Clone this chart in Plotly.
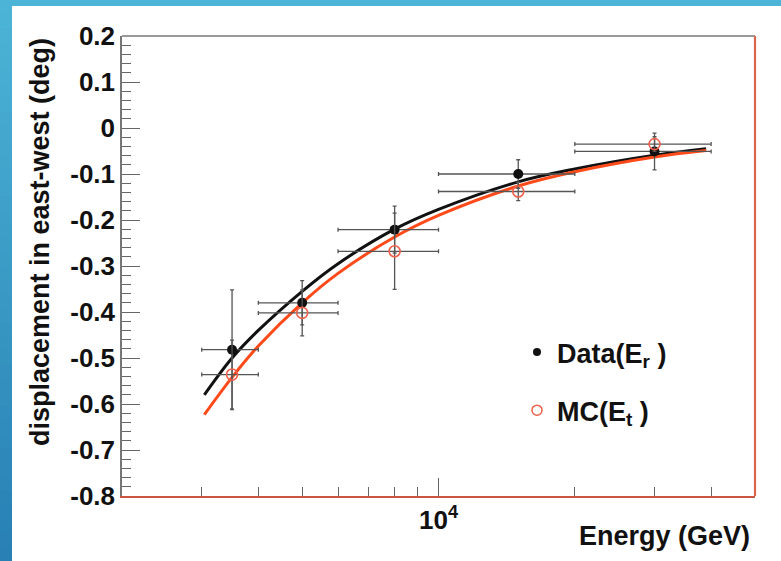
import math
import plotly.graph_objects as go

# ---- measurements -------------------------------------------------------
energy = [3500, 5000, 8000, 15000, 30000]          # GeV, bin centres
energy_err = [500, 1000, 2000, 5000, 10000]        # half bin widths

data_disp = [-0.482, -0.380, -0.221, -0.100, -0.051]
data_err = [0.130, 0.048, 0.051, 0.031, 0.040]

mc_disp = [-0.536, -0.402, -0.268, -0.138, -0.035]
mc_err = [0.075, 0.050, 0.083, 0.020, 0.016]

# ---- fitted curves ------------------------------------------------------
fit_energy = [3040, 3500, 4000, 5000, 6000, 8000, 10000, 15000, 20000, 30000, 39000]
fit_data = [-0.580, -0.500, -0.440, -0.355, -0.295, -0.220, -0.177, -0.117, -0.089, -0.059, -0.045]
fit_mc = [-0.623, -0.542, -0.474, -0.380, -0.316, -0.237, -0.190, -0.126, -0.095, -0.063, -0.049]

# ---- axis ticks ---------------------------------------------------------
y_tick_vals = [0.2, 0.1, 0.0, -0.1, -0.2, -0.3, -0.4, -0.5, -0.6, -0.7, -0.8]
y_tick_text = ["0.2", "0.1", "0", "-0.1", "-0.2", "-0.3", "-0.4", "-0.5", "-0.6", "-0.7", "-0.8"]
x_tick_vals = [10000]
x_tick_text = ["10<sup>4</sup>"]
x_minor_vals = [3000, 4000, 5000, 6000, 7000, 8000, 9000, 20000, 30000, 40000]

BLACK = "#111111"
RED_LINE = "#ff4a1a"
RED_MARK = "#f0604a"
ERR = "#555555"
FONT = "Liberation Sans, Arial, Helvetica, sans-serif"

fig = go.Figure()

fig.add_trace(go.Scatter(
    x=fit_energy, y=fit_data, mode="lines", line=dict(color=BLACK, width=3, shape="spline"),
    showlegend=False, hoverinfo="skip"))
fig.add_trace(go.Scatter(
    x=fit_energy, y=fit_mc, mode="lines", line=dict(color=RED_LINE, width=3, shape="spline"),
    showlegend=False, hoverinfo="skip"))

fig.add_trace(go.Scatter(
    x=energy, y=data_disp, mode="markers",
    marker=dict(symbol="circle", size=10, color=BLACK),
    error_x=dict(type="data", array=energy_err, color=ERR, thickness=1.3, width=2),
    error_y=dict(type="data", array=data_err, color=ERR, thickness=1.3, width=2),
    showlegend=False))
fig.add_trace(go.Scatter(
    x=energy, y=mc_disp, mode="markers",
    marker=dict(symbol="circle-open", size=11, color=RED_MARK, line=dict(width=1.6)),
    error_x=dict(type="data", array=energy_err, color=ERR, thickness=1.3, width=2),
    error_y=dict(type="data", array=mc_err, color=ERR, thickness=1.3, width=2),
    showlegend=False))

# legend entries
fig.add_trace(go.Scatter(
    x=[None], y=[None], mode="markers", name="Data(E<sub>r</sub> )",
    marker=dict(symbol="circle", size=8, color=BLACK), legendgroup="a"))
fig.add_trace(go.Scatter(
    x=[None], y=[None], mode="markers", name="MC(E<sub>t</sub> )",
    marker=dict(symbol="circle-open", size=10, color=RED_MARK, line=dict(width=1.5)),
    legendgroup="b"))

W, H = 781, 561
ML, MR, MT, MB = 122, 26, 36, 65
PW, PH = W - ML - MR, H - MT - MB


def px_x(px):
    return (px - ML) / PW


def px_y(py):
    return (H - MB - py) / PH


shapes = []
# slide frame: top strip and shaded left strip
top_c = (76, 180, 214)
bot_c = (40, 128, 180)
n = 40
for i in range(n):
    t = i / (n - 1)
    c = tuple(round(top_c[k] + (bot_c[k] - top_c[k]) * t) for k in range(3))
    y0 = i * H / n
    y1 = (i + 1) * H / n + 1
    shapes.append(dict(type="rect", xref="paper", yref="paper", layer="below",
                       x0=px_x(-5), x1=px_x(12), y0=px_y(y1), y1=px_y(y0),
                       line=dict(width=0), fillcolor="rgb(%d,%d,%d)" % c))
shapes.append(dict(type="rect", xref="paper", yref="paper", layer="below",
                   x0=px_x(-5), x1=px_x(W + 5), y0=px_y(6), y1=px_y(-5),
                   line=dict(width=0), fillcolor="rgb(%d,%d,%d)" % top_c))
# frame: grey top, red right
shapes.append(dict(type="line", xref="paper", yref="paper", x0=0, x1=1, y0=1, y1=1,
                   line=dict(color="#777777", width=1.5)))
shapes.append(dict(type="line", xref="paper", yref="paper", x0=1, x1=1, y0=0, y1=1,
                   line=dict(color="#d8654c", width=2.2)))

fig.update_layout(
    width=W, height=H,
    margin=dict(l=ML, r=MR, t=MT, b=MB),
    paper_bgcolor="white", plot_bgcolor="white",
    font=dict(family=FONT, color=BLACK),
    shapes=shapes,
    showlegend=True,
    legend=dict(x=px_x(517), y=px_y(328), xanchor="left", yanchor="top",
                bgcolor="rgba(0,0,0,0)", borderwidth=0, tracegroupgap=20,
                font=dict(family=FONT, size=27, color=BLACK, weight="bold")),
    xaxis=dict(
        type="log", range=[math.log10(2000), math.log10(50000)],
        showgrid=False, zeroline=False,
        showline=True, linecolor="#c9563f", linewidth=2, mirror=False,
        ticks="inside", ticklen=18, tickwidth=1.3, tickcolor="#666666",
        tickmode="array", tickvals=x_tick_vals, ticktext=x_tick_text,
        tickfont=dict(family=FONT, size=26, color=BLACK, weight="bold"),
        minor=dict(tickmode="array", tickvals=x_minor_vals, ticks="inside",
                   ticklen=9, tickwidth=1.3, tickcolor="#666666", showgrid=False),
    ),
    yaxis=dict(
        range=[-0.8, 0.2], showgrid=False, zeroline=False,
        showline=True, linecolor="#777777", linewidth=1.5, mirror=False,
        ticks="inside", ticklen=18, tickwidth=1.3, tickcolor="#666666",
        tickmode="array", tickvals=y_tick_vals, ticktext=y_tick_text,
        tickfont=dict(family=FONT, size=26, color=BLACK, weight="bold"),
        minor=dict(dtick=0.02, ticks="inside", ticklen=9, tickwidth=1.3,
                   tickcolor="#666666", showgrid=False),
    ),
    annotations=[
        dict(text="Energy (GeV)", xref="paper", yref="paper",
             x=px_x(752), y=px_y(536), xanchor="right", yanchor="middle",
             showarrow=False, font=dict(family=FONT, size=27, color=BLACK, weight="bold")),
        dict(text="displacement in east-west (deg)", xref="paper", yref="paper",
             x=px_x(40), y=px_y(242), xanchor="center", yanchor="middle", textangle=-90,
             showarrow=False, font=dict(family=FONT, size=27, color=BLACK, weight="bold")),
    ],
)

fig.write_html("out.html")
